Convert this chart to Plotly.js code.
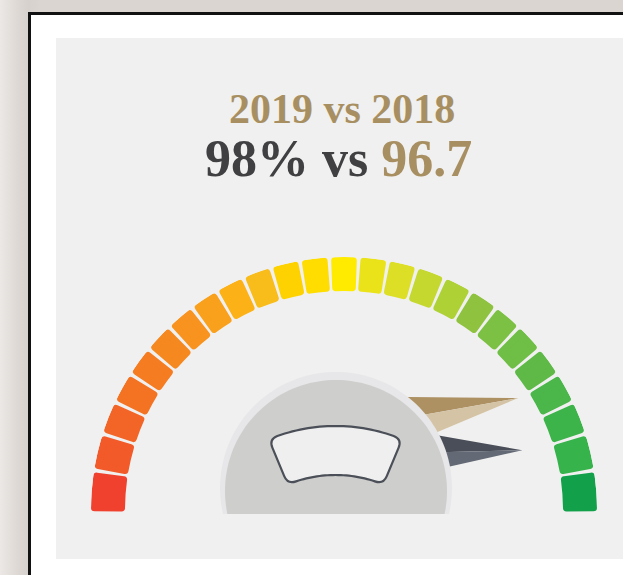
<!DOCTYPE html>
<html>
<head>
<meta charset="utf-8">
<script src="https://cdn.plot.ly/plotly-3.0.1.min.js"></script>
<style>
  html, body { margin: 0; padding: 0; }
  body {
    width: 623px; height: 575px; overflow: hidden;
    background: linear-gradient(to right, #ece8e5 0px, #ddd8d4 18px, #d6d1cc 28px, #dad5d1 40px);
  }
  #chart { width: 623px; height: 575px; }
  .barlayer path { stroke-linejoin: round !important; }
</style>
</head>
<body>
<div id="chart"></div>
<script>
// ---------------- data ----------------
const segmentColors = [
  '#f0412f', '#f25a2a', '#f36526', '#f47323', '#f57c21', '#f68820', '#f7931e',
  '#f9a11c', '#fcb117', '#f8bd1a', '#fed200', '#ffdd00', '#ffeb00', '#ebe31a',
  '#dcdf25', '#c5d82f', '#aed136', '#8fc23e', '#7cc143', '#6fbe45', '#5eb947',
  '#4bb649', '#3db44a', '#37b34c', '#12a14a'
];
const years = ['2019', '2018'];
const values = [98, 96.7];
const valueLabels = ['98%', '96.7'];
const gaugeRange = [83.2, 99.7];

// ---------------- style ----------------
const W = 623, H = 575;
const TAN = '#a88f62', DARK = '#404042';
const CX = 344, CY = 510, R_OUT = 253, THICK = 34, STROKE = 7;
const OVER = 0.7;      // degrees the scale extends below the horizontal on each side
const SECT_PAD = 1.2;  // sector padding (degrees)
const WARP_C = 0.925, WARP_P = 6; // segments grow slightly toward the ends
const X = px => px / W;
const Y = py => 1 - py / H;

const nSeg = segmentColors.length;
const midR = R_OUT - THICK / 2;
const rad2deg = 180 / Math.PI;
const gapDeg = 3 / midR * rad2deg;
const strokeDeg = (STROKE / 2) / midR * rad2deg;
const half = 90 + OVER;
const warp = u => u * (WARP_C + (1 - WARP_C) * Math.pow(Math.abs(u), WARP_P));
const bound = k => 90 - half * warp(-1 + 2 * k / nSeg);  // k = 0..nSeg, from left to right
const segTheta = [], segWidth = [];
segmentColors.forEach((c, i) => {
  const a0 = bound(i), a1 = bound(i + 1);
  segTheta.push((a0 + a1) / 2);
  segWidth.push(Math.abs(a0 - a1) - gapDeg - 2 * strokeDeg);
});

const valToTheta = v => 180 * (gaugeRange[1] - v) / (gaugeRange[1] - gaugeRange[0]);

const traces = [];
traces.push({
  type: 'barpolar',
  theta: segTheta,
  r: segTheta.map(() => THICK - STROKE),
  base: R_OUT - THICK + STROKE / 2,
  width: segWidth,
  marker: { color: segmentColors, line: { color: segmentColors, width: STROKE } },
  hoverinfo: 'skip',
  showlegend: false
});

// needles: tip radius, base points (r, angle offset), two tones
const needleStyles = [
  { tipR: 188, up: [108.9, 27.1], sp: [103.2, 15.3], lo: [96.5, 5.6], c1: '#4a4e58', c2: '#636a75' },
  { tipR: 207, up: [120.3, 37.4], sp: [108.8, 24.5], lo: [102.2, 10.5], c1: '#ad9163', c2: '#d4c3a4' }
];
values.forEach((v, k) => {
  const s = needleStyles[k];
  const t = valToTheta(v);
  traces.push({
    type: 'scatterpolar', mode: 'lines', fill: 'toself',
    r: [s.tipR, s.up[0], s.sp[0], s.tipR],
    theta: [t, t + s.up[1], t + s.sp[1], t],
    line: { width: 0, color: s.c1 }, fillcolor: s.c1,
    hoverinfo: 'skip', showlegend: false
  });
  traces.push({
    type: 'scatterpolar', mode: 'lines', fill: 'toself',
    r: [s.tipR, s.sp[0], s.lo[0], s.tipR],
    theta: [t, t + s.sp[1], t + s.lo[1], t],
    line: { width: 0, color: s.c2 }, fillcolor: s.c2,
    hoverinfo: 'skip', showlegend: false
  });
});

// ---------------- decorative shapes ----------------
function segmentPath(cx, cy, r, yCut) {
  const t0 = Math.asin((cy - yCut) / r);
  const a0 = t0, a1 = Math.PI - t0;
  const pts = [];
  const n = 90;
  for (let i = 0; i <= n; i++) {
    const a = a0 + (a1 - a0) * i / n;
    pts.push([cx + r * Math.cos(a), cy - r * Math.sin(a)]);
  }
  return 'M' + pts.map(p => X(p[0]).toFixed(5) + ',' + Y(p[1]).toFixed(5)).join('L') + 'Z';
}
function windowPath(cx, cy, ro, ri, halfDeg, rc) {
  const h = halfDeg * Math.PI / 180;
  const P = (R, a) => [cx + R * Math.sin(a), cy - R * Math.cos(a)];
  const f = p => X(p[0]).toFixed(5) + ',' + Y(p[1]).toFixed(5);
  const dao = rc / ro, dai = rc / ri;
  let d = 'M' + f(P(ro, -h + dao));
  const n = 30;
  for (let i = 1; i <= n; i++) d += 'L' + f(P(ro, -h + dao + (2 * h - 2 * dao) * i / n));
  d += 'Q' + f(P(ro, h)) + ' ' + f(P(ro - rc, h));
  d += 'L' + f(P(ri + rc, h));
  d += 'Q' + f(P(ri, h)) + ' ' + f(P(ri, h - dai));
  for (let i = 1; i <= n; i++) d += 'L' + f(P(ri, h - dai - (2 * h - 2 * dai) * i / n));
  d += 'Q' + f(P(ri, -h)) + ' ' + f(P(ri + rc, -h));
  d += 'L' + f(P(ro - rc, -h));
  d += 'Q' + f(P(ro, -h)) + ' ' + f(P(ro, -h + dao));
  return d + 'Z';
}

const shapes = [
  { type: 'rect', xref: 'paper', yref: 'paper', layer: 'below',
    x0: X(29.5), y0: Y(13.5), x1: 1.3, y1: -0.3,
    fillcolor: '#ffffff', line: { color: '#111111', width: 3 } },
  { type: 'rect', xref: 'paper', yref: 'paper', layer: 'below',
    x0: X(56), y0: Y(38), x1: 1.2, y1: Y(559),
    fillcolor: '#f0f0f0', line: { width: 0 } },
  { type: 'path', xref: 'paper', yref: 'paper', layer: 'above',
    path: segmentPath(336, 488, 116, 514), fillcolor: '#e7e7e9', line: { width: 0 } },
  { type: 'path', xref: 'paper', yref: 'paper', layer: 'above',
    path: segmentPath(336, 491, 111, 514), fillcolor: '#cececc', line: { width: 0 } },
  { type: 'path', xref: 'paper', yref: 'paper', layer: 'above',
    path: windowPath(335.5, 600, 174, 125, 22.5, 9), fillcolor: '#efefef',
    line: { color: '#4b4f58', width: 2.2 } }
];

const FONT = '"Liberation Serif", "Times New Roman", serif';
const annotations = [
  { xref: 'paper', yref: 'paper', x: X(341.5), y: Y(108.5), xanchor: 'center', yanchor: 'middle',
    showarrow: false, text: '<b>' + years[0] + ' vs ' + years[1] + '</b>',
    font: { family: FONT, size: 42, color: TAN } },
  { xref: 'paper', yref: 'paper', x: X(339), y: Y(158.5), xanchor: 'center', yanchor: 'middle',
    showarrow: false,
    text: '<b>' + valueLabels[0] + ' vs </b><span style="color:' + TAN + '"><b>' + valueLabels[1] + '</b></span>',
    font: { family: FONT, size: 52, color: DARK } }
];

const padPx = R_OUT * Math.sin(SECT_PAD * Math.PI / 180);
const layout = {
  width: W, height: H,
  margin: { l: 0, r: 0, t: 0, b: 0 },
  paper_bgcolor: 'rgba(0,0,0,0)',
  plot_bgcolor: 'rgba(0,0,0,0)',
  showlegend: false,
  polar: {
    domain: { x: [X(CX - R_OUT), X(CX + R_OUT)], y: [Y(CY + padPx), Y(CY - R_OUT)] },
    sector: [-SECT_PAD, 180 + SECT_PAD],
    bgcolor: 'rgba(0,0,0,0)',
    hole: 0,
    radialaxis: { visible: false, range: [0, R_OUT], showgrid: false, showline: false },
    angularaxis: { visible: false, showgrid: false, showline: false, ticks: '',
      rotation: 0, direction: 'counterclockwise', thetaunit: 'degrees' }
  },
  shapes: shapes,
  annotations: annotations
};

Plotly.newPlot('chart', traces, layout, { displayModeBar: false, staticPlot: true });
</script>
</body>
</html>
